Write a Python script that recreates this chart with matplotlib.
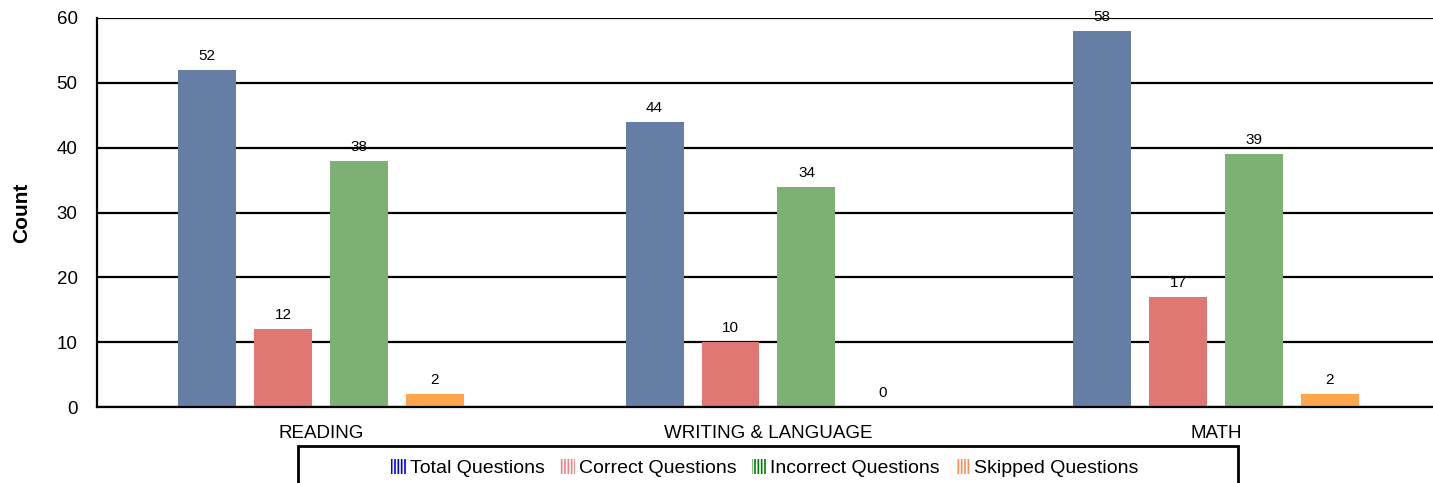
import numpy as np
import matplotlib.pyplot as plt
from matplotlib.patches import Patch, Rectangle

plt.rcParams['font.family'] = ['Liberation Sans', 'DejaVu Sans']
plt.rcParams['hatch.linewidth'] = 1.2

# data
categories = ['READING', 'WRITING & LANGUAGE', 'MATH']
series = ['Total Questions', 'Correct Questions', 'Incorrect Questions', 'Skipped Questions']
total = [52, 44, 58]
correct = [12, 10, 17]
incorrect = [38, 34, 39]
skipped = [2, 0, 2]

bar_colors = ['#647ea6', '#df7872', '#7db174', '#ffa54a']
legend_colors = ['#0000ff', '#f08080', '#008000', '#ff8c50']

fig = plt.figure(figsize=(14.33, 4.83), dpi=100)
ax = fig.add_axes([97 / 1433, 1 - 407 / 483, 1 - 97 / 1433, (407 - 18) / 483])

x = np.arange(len(categories))
width = 0.1296
step = 0.1698
values = [total, correct, incorrect, skipped]
for i, vals in enumerate(values):
    pos = x + (i - 1.5) * step
    bars = ax.bar(pos, vals, width, color=bar_colors[i], zorder=3)
    for b, v in zip(bars, vals):
        ax.annotate(str(v), (b.get_x() + b.get_width() / 2, v),
                    xytext=(0, 5), textcoords='offset points',
                    ha='center', va='bottom', fontsize=11, zorder=4)

ax.set_xlim(-0.5006, 2.485)
ax.set_ylim(0, 60)
ax.set_yticks(range(0, 61, 10))
ax.set_xticks(x)
ax.set_xticklabels(categories)
ax.yaxis.grid(True, color='black', linewidth=1.6, zorder=0)
ax.set_axisbelow(True)
for s in ['top', 'right']:
    ax.spines[s].set_visible(False)
for s in ['left', 'bottom']:
    ax.spines[s].set_linewidth(1.6)
    ax.spines[s].set_zorder(5)
ax.tick_params(axis='y', length=0, pad=14, labelsize=13.5)
ax.tick_params(axis='x', length=0, pad=13, labelsize=13.5)
ax.set_ylabel('Count', fontsize=15, fontweight='bold', labelpad=18)

# legend with hatched keys inside a wide box
handles = [Patch(facecolor='white', edgecolor=c, hatch='|||||', linewidth=0)
           for c in legend_colors]
fig.legend(handles, series, loc='center', bbox_to_anchor=(765 / 1433, 1 - 468 / 483),
           ncol=4, frameon=False, fontsize=14, handlelength=0.75, handleheight=0.8,
           handletextpad=0.2, columnspacing=0.8)
fig.patches.append(Rectangle((298 / 1433, -0.05), 940 / 1433, 0.05 + 1 - 446 / 483,
                             transform=fig.transFigure, fill=False,
                             edgecolor='black', linewidth=2, clip_on=False))

fig.savefig('out.png', dpi=100)
